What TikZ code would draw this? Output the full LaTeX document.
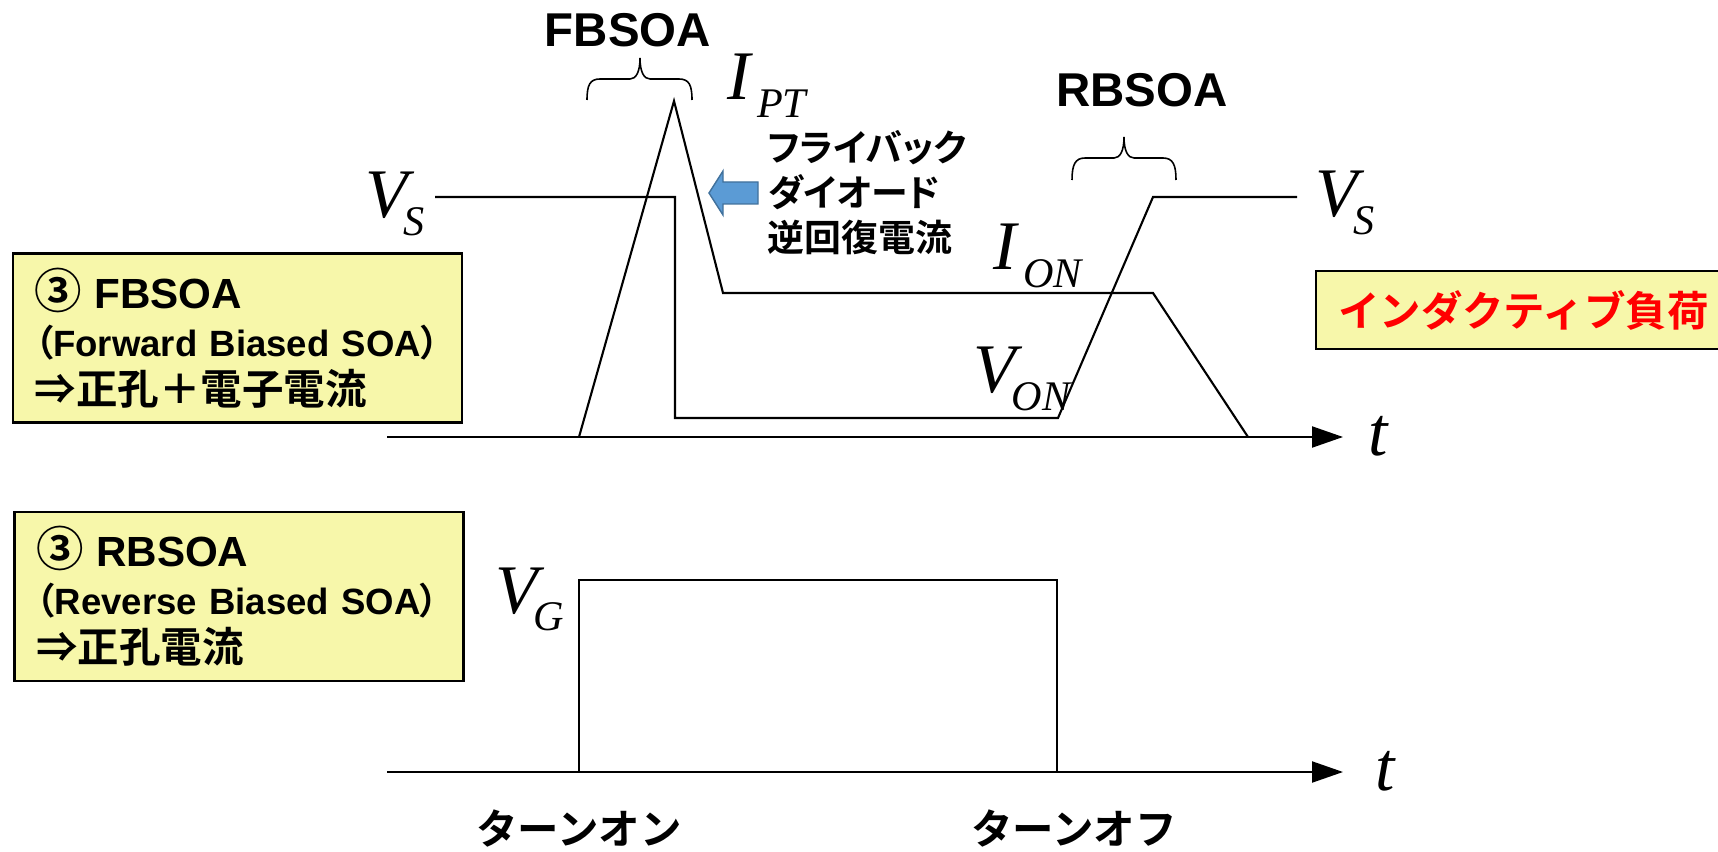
\documentclass[tikz,border=0pt]{standalone}
\usepackage{fontspec}
\setmainfont{Liberation Sans}
\newfontfamily\jp{Noto Sans CJK JP}[BoldFont={Noto Sans CJK JP Bold}]
\newfontfamily\jpp{Noto Sans CJK JP}[BoldFont={Noto Sans CJK JP Bold},RawFeature=+palt]
\newfontfamily\tms{Liberation Serif}
\usetikzlibrary{arrows.meta}

\definecolor{boxyellow}{RGB}{247,247,170}
\definecolor{arrowblue}{RGB}{91,155,213}
\definecolor{arrowedge}{RGB}{65,113,156}

% signal name with subscript
\newcommand{\sig}[3][-1.3pt]{{\tms\itshape\fontsize{19.8}{20}\selectfont #2\kern#1\raisebox{-5pt}{\fontsize{12}{12}\selectfont #3}}}
\newcommand{\jb}{\jp\bfseries\fontsize{11.8}{13.7}\selectfont}
\newcommand{\circno}{{\jpp\bfseries\fontsize{13.5}{13.7}\selectfont ③}}
\newcommand{\boxhead}[1]{\mbox{\circno\ {\fontsize{12}{13.7}\selectfont #1}}}

\begin{document}
\begin{tikzpicture}

% definitions
\tikzstyle{wave} = [line width=0.6pt, line join=miter]
\tikzstyle{axis} = [line width=0.6pt, -{Triangle[length=0.31cm, width=0.21cm]}]
\tikzstyle{brace} = [line width=0.45pt]
\tikzstyle{infobox} = [rectangle, draw=black, fill=boxyellow, line width=0.6pt, minimum width=4.49cm, minimum height=1.69cm, text width=4.05cm, inner xsep=0.22cm, align=left, font=\bfseries\fontsize{10.4}{13.7}\selectfont]
\tikzstyle{loadbox} = [rectangle, draw=black, fill=boxyellow, line width=0.6pt, minimum height=0.78cm, inner xsep=0.22cm, anchor=west, text=red, font=\jb]
\tikzstyle{sigl} = [anchor=base west, inner sep=0]
\tikzstyle{soa} = [inner sep=0, font=\bfseries\fontsize{13.5}{14}\selectfont]

\useasboundingbox (0,0) rectangle (17.18,-8.52);
\clip (0,0) rectangle (17.18,-8.52);


% upper chart: current and voltage
\coordinate (ta) at (3.87,-4.37);
\coordinate (tb) at (13.43,-4.37);

\coordinate (i0) at (5.79,-4.37);
\coordinate (i1) at (6.74,-1.01);
\coordinate (i2) at (7.23,-2.93);
\coordinate (i3) at (11.53,-2.93);
\coordinate (i4) at (12.48,-4.37);

\coordinate (v0) at (4.35,-1.97);
\coordinate (v1) at (6.75,-1.97);
\coordinate (v2) at (6.75,-4.18);
\coordinate (v3) at (10.58,-4.18);
\coordinate (v4) at (11.53,-1.97);
\coordinate (v5) at (12.97,-1.97);

\draw [axis] (ta) -- (tb);
\draw [wave] (i0) -- (i1) -- (i2) -- (i3) -- (i4);
\draw [wave] (v0) -- (v1) -- (v2) -- (v3) -- (v4) -- (v5);

\node (vsa) [sigl] at (3.65,-2.18) {\sig{V}{S}};
\node (ipt) [sigl] at (7.27,-1.00) {\sig[1.8pt]{I}{PT}};
\node (ion) [sigl] at (9.93,-2.70) {\sig[1.8pt]{I}{ON}};
\node (von) [sigl] at (9.73,-3.93) {\sig{V}{ON}};
\node (vsb) [sigl] at (13.15,-2.17) {\sig{V}{S}};
\node (ta-t) [sigl] at (13.68,-4.55) {\tms\itshape\fontsize{19.8}{20}\selectfont t};

% braces
\node (fbsoa) [soa] at (6.28,-0.30) {FBSOA};
\draw [brace] (5.87,-1.00) .. controls (5.87,-0.85) and (5.90,-0.79) .. (6.00,-0.79) -- (6.30,-0.79)
  .. controls (6.36,-0.79) and (6.40,-0.72) .. (6.40,-0.58)
  .. controls (6.40,-0.72) and (6.44,-0.79) .. (6.50,-0.79) -- (6.79,-0.79)
  .. controls (6.89,-0.79) and (6.92,-0.85) .. (6.92,-1.00);

\node (rbsoa) [soa] at (11.42,-0.90) {RBSOA};
\draw [brace] (10.72,-1.80) .. controls (10.72,-1.65) and (10.75,-1.58) .. (10.85,-1.58) -- (11.14,-1.58)
  .. controls (11.20,-1.58) and (11.24,-1.51) .. (11.24,-1.37)
  .. controls (11.24,-1.51) and (11.28,-1.58) .. (11.34,-1.58) -- (11.63,-1.58)
  .. controls (11.73,-1.58) and (11.76,-1.65) .. (11.76,-1.80);

% flyback diode note
\draw [fill=arrowblue, draw=arrowedge, line width=0.4pt] (7.09,-1.93) -- (7.23,-1.71) -- (7.23,-1.82)
  -- (7.58,-1.82) -- (7.58,-2.04) -- (7.23,-2.04) -- (7.23,-2.15) -- cycle;
\node (fbtext) [anchor=west, inner sep=0, align=left, font=\jpp\bfseries\fontsize{10.5}{12.8}\selectfont] at (7.67,-1.93) {フライバック\\ダイオード\\逆回復電流};

\node (fbbox) [infobox] at (2.375,-3.38) {\boxhead{FBSOA}\\\mbox{{\jpp\bfseries （}Forward Biased SOA{\jpp\bfseries ）}}\\\mbox{\jb ⇒正孔＋電子電流}};

\node (load) [loadbox] at (13.15,-3.10) {インダクティブ負荷};


% lower chart: gate voltage
\coordinate (ga) at (3.87,-7.72);
\coordinate (gb) at (13.43,-7.72);

\coordinate (g0) at (5.79,-7.72);
\coordinate (g1) at (5.79,-5.80);
\coordinate (g2) at (10.57,-5.80);
\coordinate (g3) at (10.57,-7.72);

\draw [axis] (ga) -- (gb);
\draw [wave] (g0) -- (g1) -- (g2) -- (g3);

\node (vg) [sigl] at (4.95,-6.13) {\sig{V}{G}};
\node (gb-t) [sigl] at (13.75,-7.90) {\tms\itshape\fontsize{19.8}{20}\selectfont t};

\node (rbbox) [infobox] at (2.39,-5.965) {\boxhead{RBSOA}\\\mbox{{\jpp\bfseries （}Reverse Biased SOA{\jpp\bfseries ）}}\\\mbox{\jb ⇒正孔電流}};

\node (turnon) [font=\jb] at (5.79,-8.29) {ターンオン};
\node (turnoff) [font=\jb] at (10.74,-8.29) {ターンオフ};

\end{tikzpicture}
\end{document}
